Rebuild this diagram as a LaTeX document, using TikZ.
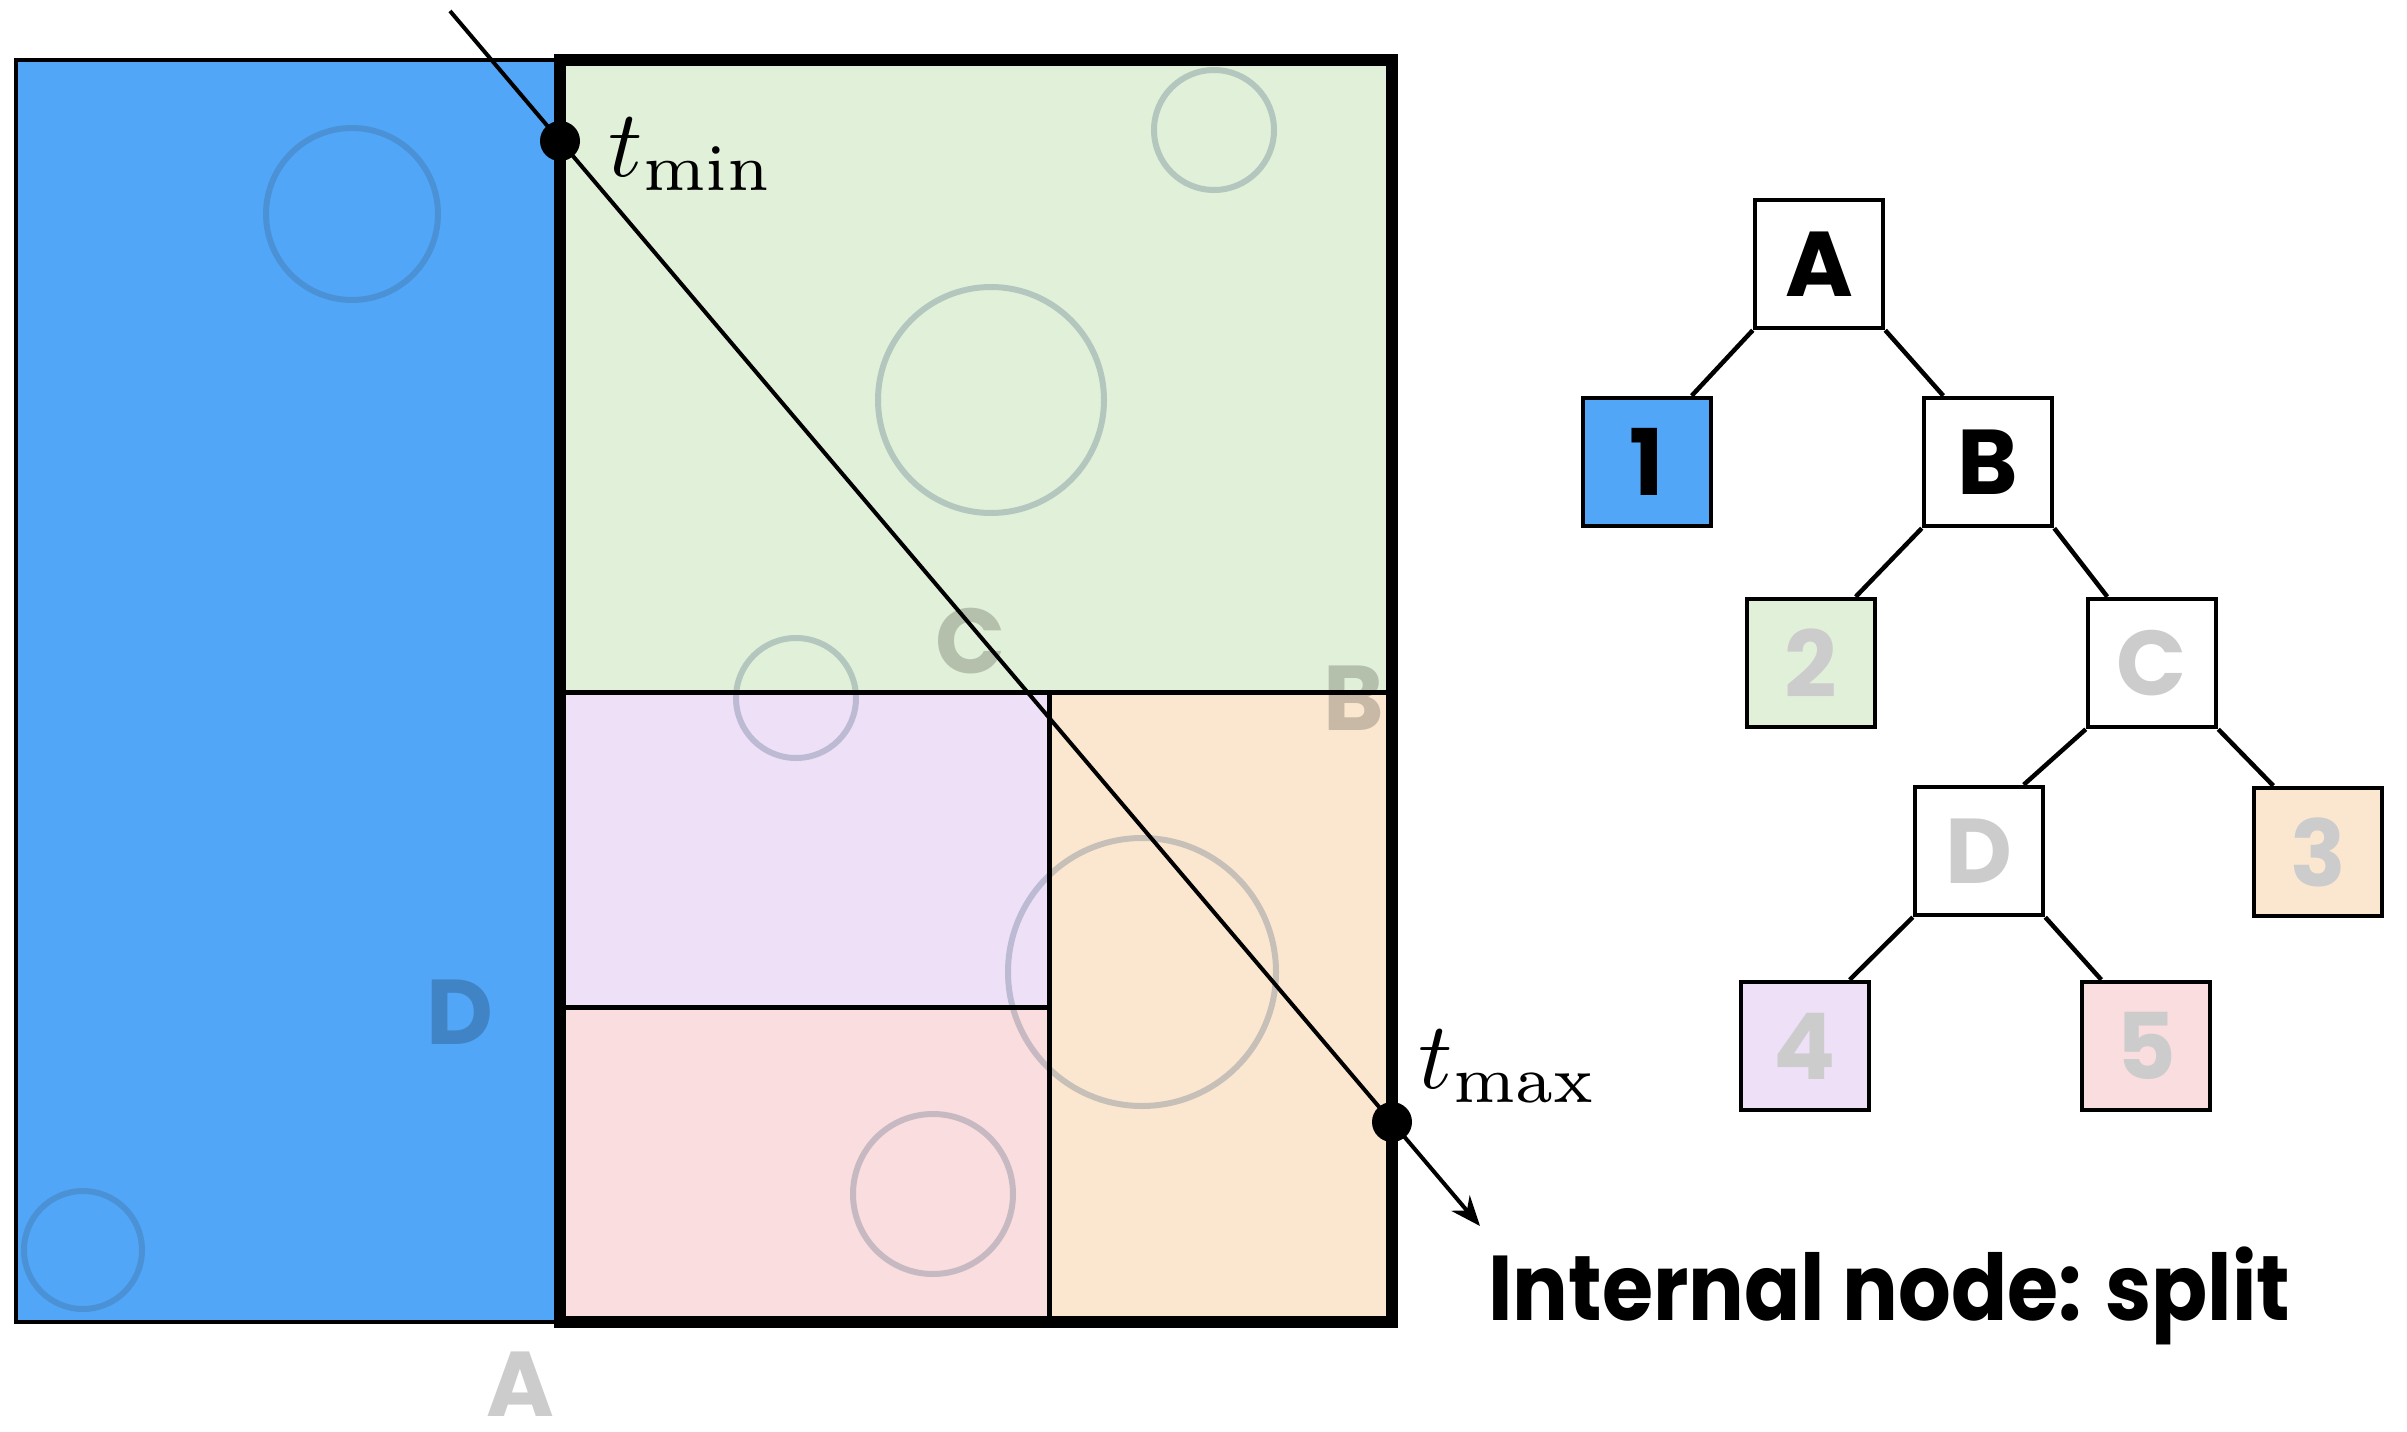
\documentclass[tikz,border=0pt]{standalone}
\usepackage{fontspec}
\newfontfamily\pop{Poppins}
\newfontfamily\popnarrow{Poppins}[FakeStretch=0.9]
\usetikzlibrary{arrows.meta}
\definecolor{cblue}{RGB}{81,166,248}
\definecolor{cgreen}{RGB}{225,240,216}
\definecolor{cpurple}{RGB}{237,224,247}
\definecolor{cpink}{RGB}{250,221,222}
\definecolor{corange}{RGB}{251,231,208}
\definecolor{cgray}{RGB}{204,204,204}
\definecolor{cslate}{RGB}{60,90,120}
\tikzset{
  bigfont/.style={font=\pop\bfseries\fontsize{92}{100}\selectfont},
  capfont/.style={font=\popnarrow\bfseries\fontsize{92}{100}\selectfont},
  ghost/.style={bigfont, text=black, text opacity=0.2, inner sep=0pt},
  blob/.style={draw=cslate, draw opacity=0.27, line width=6pt},
  split/.style={draw=black, line width=5pt},
  raypt/.style={circle, fill=black, minimum size=40pt, inner sep=0pt},
  treebox/.style={draw=black, line width=4.5pt, minimum size=128pt, inner sep=0pt, bigfont},
  leaftxt/.style={text=cgray},
  treeedge/.style={draw=black, line width=4.5pt},
  mathlbl/.style={scale=9.5, inner sep=0pt}
}
\begin{document}
\begin{tikzpicture}[x=1pt,y=-1pt]
\useasboundingbox (0,0) rectangle (2407,1432);
% regions
\fill[cblue] (16,60) rectangle (560,1322);
\fill[cgreen] (560,60) rectangle (1392,692);
\fill[cpurple] (560,692) rectangle (1049,1007);
\fill[cpink] (560,1007) rectangle (1049,1322);
\fill[corange] (1049,692) rectangle (1392,1322);
% circles
\draw[blob] (352,214) circle[radius=86pt];
\draw[blob] (83,1250) circle[radius=59pt];
\draw[blob] (1214,130) circle[radius=60pt];
\draw[blob] (991,400) circle[radius=113pt];
\draw[blob] (796,698) circle[radius=60pt];
\draw[blob] (1142,972) circle[radius=134pt];
\draw[blob] (933,1194) circle[radius=80pt];
% ghost labels
\node[ghost] (lC) at (971,641) {C};
\node[ghost] (lB) at (1354,698) {B};
\node[ghost] (lD) at (460,1012) {D};
\node[ghost] (lA) at (520,1384) {A};
% outlines
\draw[line width=4.5pt] (16,60) rectangle (560,1322);
\draw[split] (560,692) -- (1392,692);
\draw[split] (1049,692) -- (1049,1322);
\draw[split] (560,1007) -- (1049,1007);
\draw[line width=12.5pt, line join=miter] (560,60) rectangle (1392,1322);
% ray
\coordinate (rs) at (450,11);
\coordinate (re) at (1480,1226);
\draw[line width=4pt, -{Stealth[length=30pt,width=24pt]}] (rs) -- (re);
\node[raypt] (tmin) at (560,141) {};
\node[raypt] (tmax) at (1392,1122) {};
\node[mathlbl, anchor=base west] (ltmin) at (607,176) {$t_{\min}$};
\node[mathlbl, anchor=base west] (ltmax) at (1417,1088) {$t_{\max}$};
\node[capfont, anchor=base west, inner sep=0pt] (cap) at (1488,1320) {Internal node: split};
% tree
\node[treebox] (tA) at (1819,264) {A};
\node[treebox, fill=cblue] (t1) at (1647,462) {1};
\node[treebox] (tB) at (1988,462) {B};
\node[treebox, fill=cgreen, leaftxt] (t2) at (1811,663) {2};
\node[treebox, leaftxt] (tC) at (2152,663) {C};
\node[treebox, leaftxt] (tD) at (1979,851) {D};
\node[treebox, fill=corange, leaftxt] (t3) at (2318,852) {3};
\node[treebox, fill=cpurple, leaftxt] (t4) at (1805,1046) {4};
\node[treebox, fill=cpink, leaftxt] (t5) at (2146,1046) {5};
\draw[treeedge] (tA.south west) -- (t1.56);
\draw[treeedge] (tA.south east) -- (tB.124);
\draw[treeedge] (tB.south west) -- (t2.56);
\draw[treeedge] (tB.south east) -- (tC.124);
\draw[treeedge] (tC.south west) -- (tD.56);
\draw[treeedge] (tC.south east) -- (t3.124);
\draw[treeedge] (tD.south west) -- (t4.56);
\draw[treeedge] (tD.south east) -- (t5.124);
\end{tikzpicture}
\end{document}
